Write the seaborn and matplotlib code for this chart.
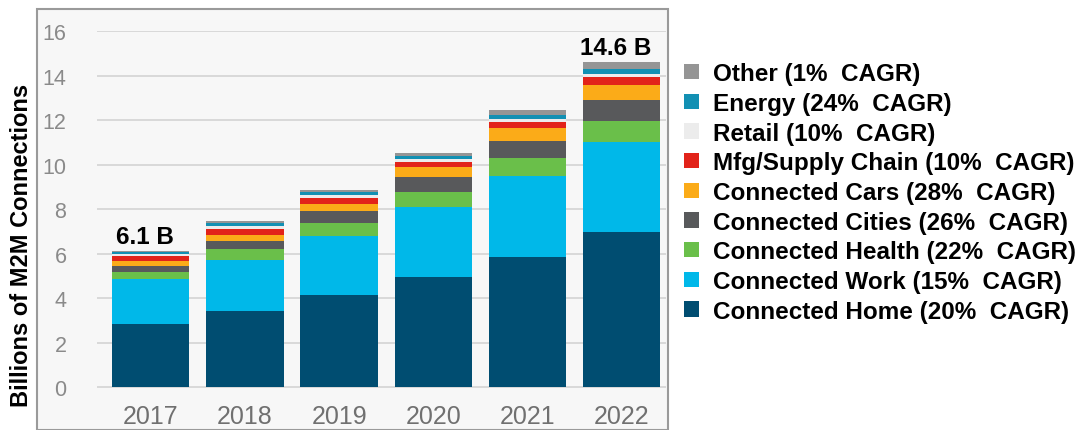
import numpy as np
import pandas as pd
import matplotlib
matplotlib.use("Agg")
import matplotlib.pyplot as plt
from matplotlib.patches import Rectangle, Patch
import seaborn as sns

years = ["2017", "2018", "2019", "2020", "2021", "2022"]
series_names = ["Connected Home", "Connected Work", "Connected Health", "Connected Cities",
                "Connected Cars", "Mfg/Supply Chain", "Retail", "Energy", "Other"]
cagr = ["20%", "15%", "22%", "26%", "28%", "10%", "10%", "24%", "1%"]
home    = [2.83, 3.42, 4.13, 4.94, 5.84, 6.97]
work    = [2.02, 2.29, 2.66, 3.15, 3.64, 4.04]
health  = [0.32, 0.49, 0.58, 0.67, 0.81, 0.95]
cities  = [0.27, 0.36, 0.54, 0.68, 0.77, 0.94]
cars    = [0.22, 0.27, 0.31, 0.45, 0.58, 0.67]
mfg     = [0.23, 0.27, 0.27, 0.22, 0.27, 0.36]
retail  = [0.09, 0.13, 0.14, 0.14, 0.13, 0.14]
energy  = [0.09, 0.13, 0.13, 0.13, 0.20, 0.23]
other   = [0.05, 0.09, 0.09, 0.14, 0.21, 0.30]
total_labels = {"2017": "6.1 B", "2022": "14.6 B"}
colors = ["#004d71", "#00b8e9", "#6abf4a", "#58595b", "#fbab18",
          "#e2231a", "#ececec", "#1290b3", "#959595"]

values = [home, work, health, cities, cars, mfg, retail, energy, other]
df = pd.DataFrame({n: v for n, v in zip(series_names, values)}, index=years)
cum = df.cumsum(axis=1)

sns.set_theme(style="white")
plt.rcParams["font.family"] = ["Liberation Sans", "DejaVu Sans"]

W, H = 1077, 431
fig = plt.figure(figsize=(W / 100, H / 100), dpi=100)
fig.patch.set_facecolor("white")

# framed panel
frame = Rectangle((37 / W, 0), (668 - 37) / W, (H - 10) / H, transform=fig.transFigure,
                  facecolor="#f7f7f7", edgecolor="#9a9a9a", linewidth=1.5, zorder=-5)
fig.patches.append(frame)

ax = fig.add_axes([97 / W, (H - 395) / H, (666 - 97) / W, (395 - 32) / H])
ax.set_facecolor("none")
ax.set_zorder(2)

plot_df = cum.reset_index().rename(columns={"index": "Year"})
for i in range(len(series_names) - 1, -1, -1):
    sns.barplot(data=plot_df, x="Year", y=series_names[i], color=colors[i],
                saturation=1, width=0.82, errorbar=None, ax=ax, zorder=3,
                linewidth=0)

ax.set_xlim(-0.57, 5.47)
ax.set_ylim(-0.3, 16)
ax.set_yticks(range(0, 17, 2))
ax.yaxis.grid(True, color="#d6d6d6", linewidth=1.3, zorder=0)
ax.set_axisbelow(True)
for s in ax.spines.values():
    s.set_visible(False)
ax.tick_params(axis="y", length=0, pad=22, labelsize=15.5, labelcolor="#8a8a8a")
ax.tick_params(axis="x", length=0, pad=7, labelsize=18, labelcolor="#707070")
ax.set_xlabel("")
ax.set_ylabel("")

fig.text(22 / W, 1 - 245 / H, "Billions of M2M Connections", rotation=90, ha="center",
         va="center", fontsize=17, fontweight="bold", color="black")

totals = cum.iloc[:, -1]
for yr, lab in total_labels.items():
    xi = years.index(yr)
    ax.annotate(lab, (xi, totals[yr]), xytext=(-4, 2), textcoords="offset points",
                ha="center", va="bottom", fontsize=17.5, fontweight="bold", color="black")

handles = [Patch(facecolor=colors[i], edgecolor="none") for i in range(len(series_names) - 1, -1, -1)]
labels = [f"{series_names[i]} ({cagr[i]}  CAGR)" for i in range(len(series_names) - 1, -1, -1)]
fig.legend(handles, labels, loc="upper left", bbox_to_anchor=(672 / W, 1 - 51 / H),
           frameon=False, prop={"weight": "bold", "size": 17.5}, labelcolor="black",
           handlelength=0.6, handleheight=0.6, handletextpad=0.58, labelspacing=0.275,
           borderpad=0)

fig.savefig("out.png", dpi=100)
